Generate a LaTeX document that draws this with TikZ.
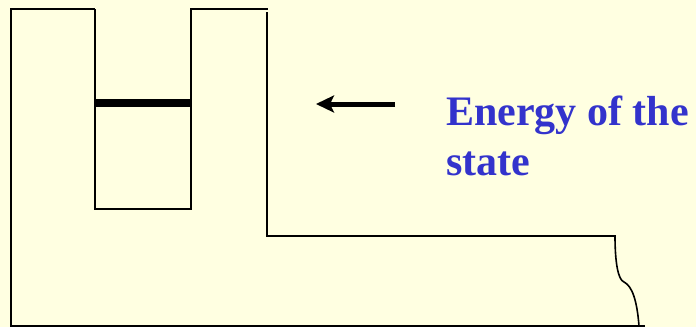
\documentclass[tikz,border=0pt]{standalone}
\usepackage{fontspec}
\setmainfont{Liberation Serif}
\usetikzlibrary{arrows.meta}
\definecolor{paper}{RGB}{255,255,225}
\definecolor{labelblue}{RGB}{51,51,204}

\begin{document}
\begin{tikzpicture}[
  x=1pt, y=-1pt,
  wall/.style={draw=black, line width=1.6pt},
  level/.style={draw=black, line width=7.5pt},
  arr/.style={-{Stealth[length=18pt,width=17pt,inset=4pt]}, line width=5pt},
  label/.style={font=\fontsize{42}{50}\selectfont\bfseries, text=labelblue, align=left, inner sep=0pt}
]
\fill[paper] (0,0) rectangle (696,327);
\useasboundingbox (0,0) rectangle (696,327);
% outer walls and inner well
\draw[wall] (95,9) -- (11,9) -- (11,326) -- (645,326);
\draw[wall] (95,9) -- (95,209) -- (191,209) -- (191,9) -- (268,9);
\draw[wall] (267,12) -- (267,236) -- (615,236)
  .. controls (615,262) and (618,280) .. (624,282)
  .. controls (632,286) and (637,300) .. (639,326);
% bound state
\draw[level] (95,103) -- (191,103);
\node[label, anchor=base west] (energy) at (446,175) {Energy of the\\state};
\coordinate (tail) at (395,104);
\coordinate (head) at (316,104);
\draw[arr] (tail) -- (head);
\end{tikzpicture}
\end{document}
